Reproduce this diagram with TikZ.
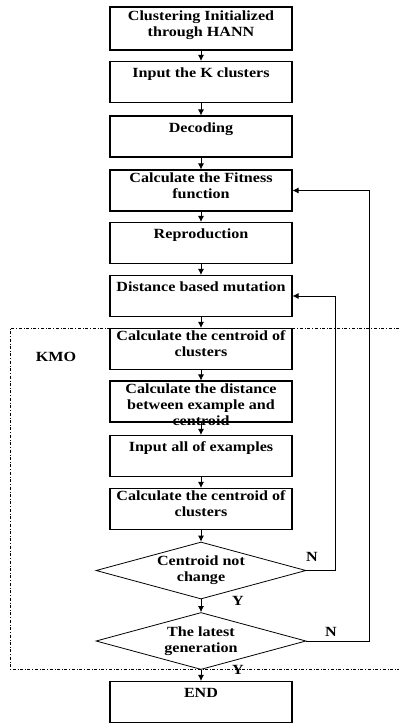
\documentclass[tikz,border=0pt]{standalone}
\usepackage{fontspec}
\setmainfont{Liberation Serif}[FakeStretch=1.15]
\usetikzlibrary{shapes.geometric,arrows.meta}
\newcommand{\boxtext}[2][4.5pt]{\smash{\raisebox{#1}{\parbox[t]{180pt}{\centering #2}}}}
\tikzset{
    stepbox/.style={draw, line width=1.1pt, minimum width=182pt, minimum height=41pt, inner sep=0pt},
    testbox/.style={draw, diamond, aspect=3.7, line width=0.8pt, minimum width=210pt, minimum height=57pt, inner sep=0pt, align=center},
    flow/.style={-{Latex[length=6pt,width=6pt]}, line width=0.8pt},
    tag/.style={inner sep=0pt}
}
\begin{document}
\begin{tikzpicture}[x=1pt, y=-1pt, font=\fontsize{14}{16}\selectfont\bfseries]
    \useasboundingbox (0,0) rectangle (399,723);
    \node[stepbox, minimum height=43pt] (init) at (201,28.5) {\boxtext[8.5pt]{Clustering Initialized\\through HANN}};
    \node[stepbox] (input) at (201,82) {\boxtext{Input the K clusters}};
    \node[stepbox] (decode) at (201,136.5) {\boxtext{Decoding}};
    \node[stepbox] (fitness) at (201,190.5) {\boxtext[8.5pt]{Calculate the Fitness\\function}};
    \node[stepbox] (repro) at (201,243) {\boxtext{Reproduction}};
    \node[stepbox] (mutate) at (201,296) {\boxtext{Distance based mutation}};
    \node[stepbox] (cent1) at (201,349) {\boxtext[9pt]{Calculate the centroid of\\clusters}};
    \node[stepbox] (dist) at (201,401.5) {\boxtext[8.5pt]{Calculate the distance\\between example and\\centroid}};
    \node[stepbox] (allex) at (201,456) {\boxtext{Input all of examples}};
    \node[stepbox] (cent2) at (201,509) {\boxtext[8.5pt]{Calculate the centroid of\\clusters}};
    \node[testbox] (same) at (201,570.5) {Centroid not\\change};
    \node[testbox] (last) at (201,641) {The latest\\generation};
    \node[stepbox] (done) at (201,702) {\boxtext{END}};
    \draw[dash dot, line width=0.8pt] (399,328) -| (10,669) -- (399,669);
    \node[tag] (kmo) at (56,357) {KMO};
    \draw[flow] (init) -- (input);
    \draw[flow] (input) -- (decode);
    \draw[flow] (decode) -- (fitness);
    \draw[flow] (fitness) -- (repro);
    \draw[flow] (repro) -- (mutate);
    \draw[flow] (mutate) -- (cent1);
    \draw[flow] (cent1) -- (dist);
    \draw[flow] (dist) -- (allex);
    \draw[flow] (allex) -- (cent2);
    \draw[flow] (cent2) -- (same);
    \draw[flow] (same) -- (last);
    \draw[flow] (last) -- (done);
    \draw[flow] (same.east) -- ++(29,0) |- (mutate.east);
    \draw[flow] (last.east) -- ++(63,0) |- (fitness.east);
    \node[tag] (no1) at (312,557) {N};
    \node[tag] (no2) at (331,632) {N};
    \node[tag] (yes1) at (238,601) {Y};
    \node[tag] (yes2) at (238,670) {Y};
\end{tikzpicture}
\end{document}
